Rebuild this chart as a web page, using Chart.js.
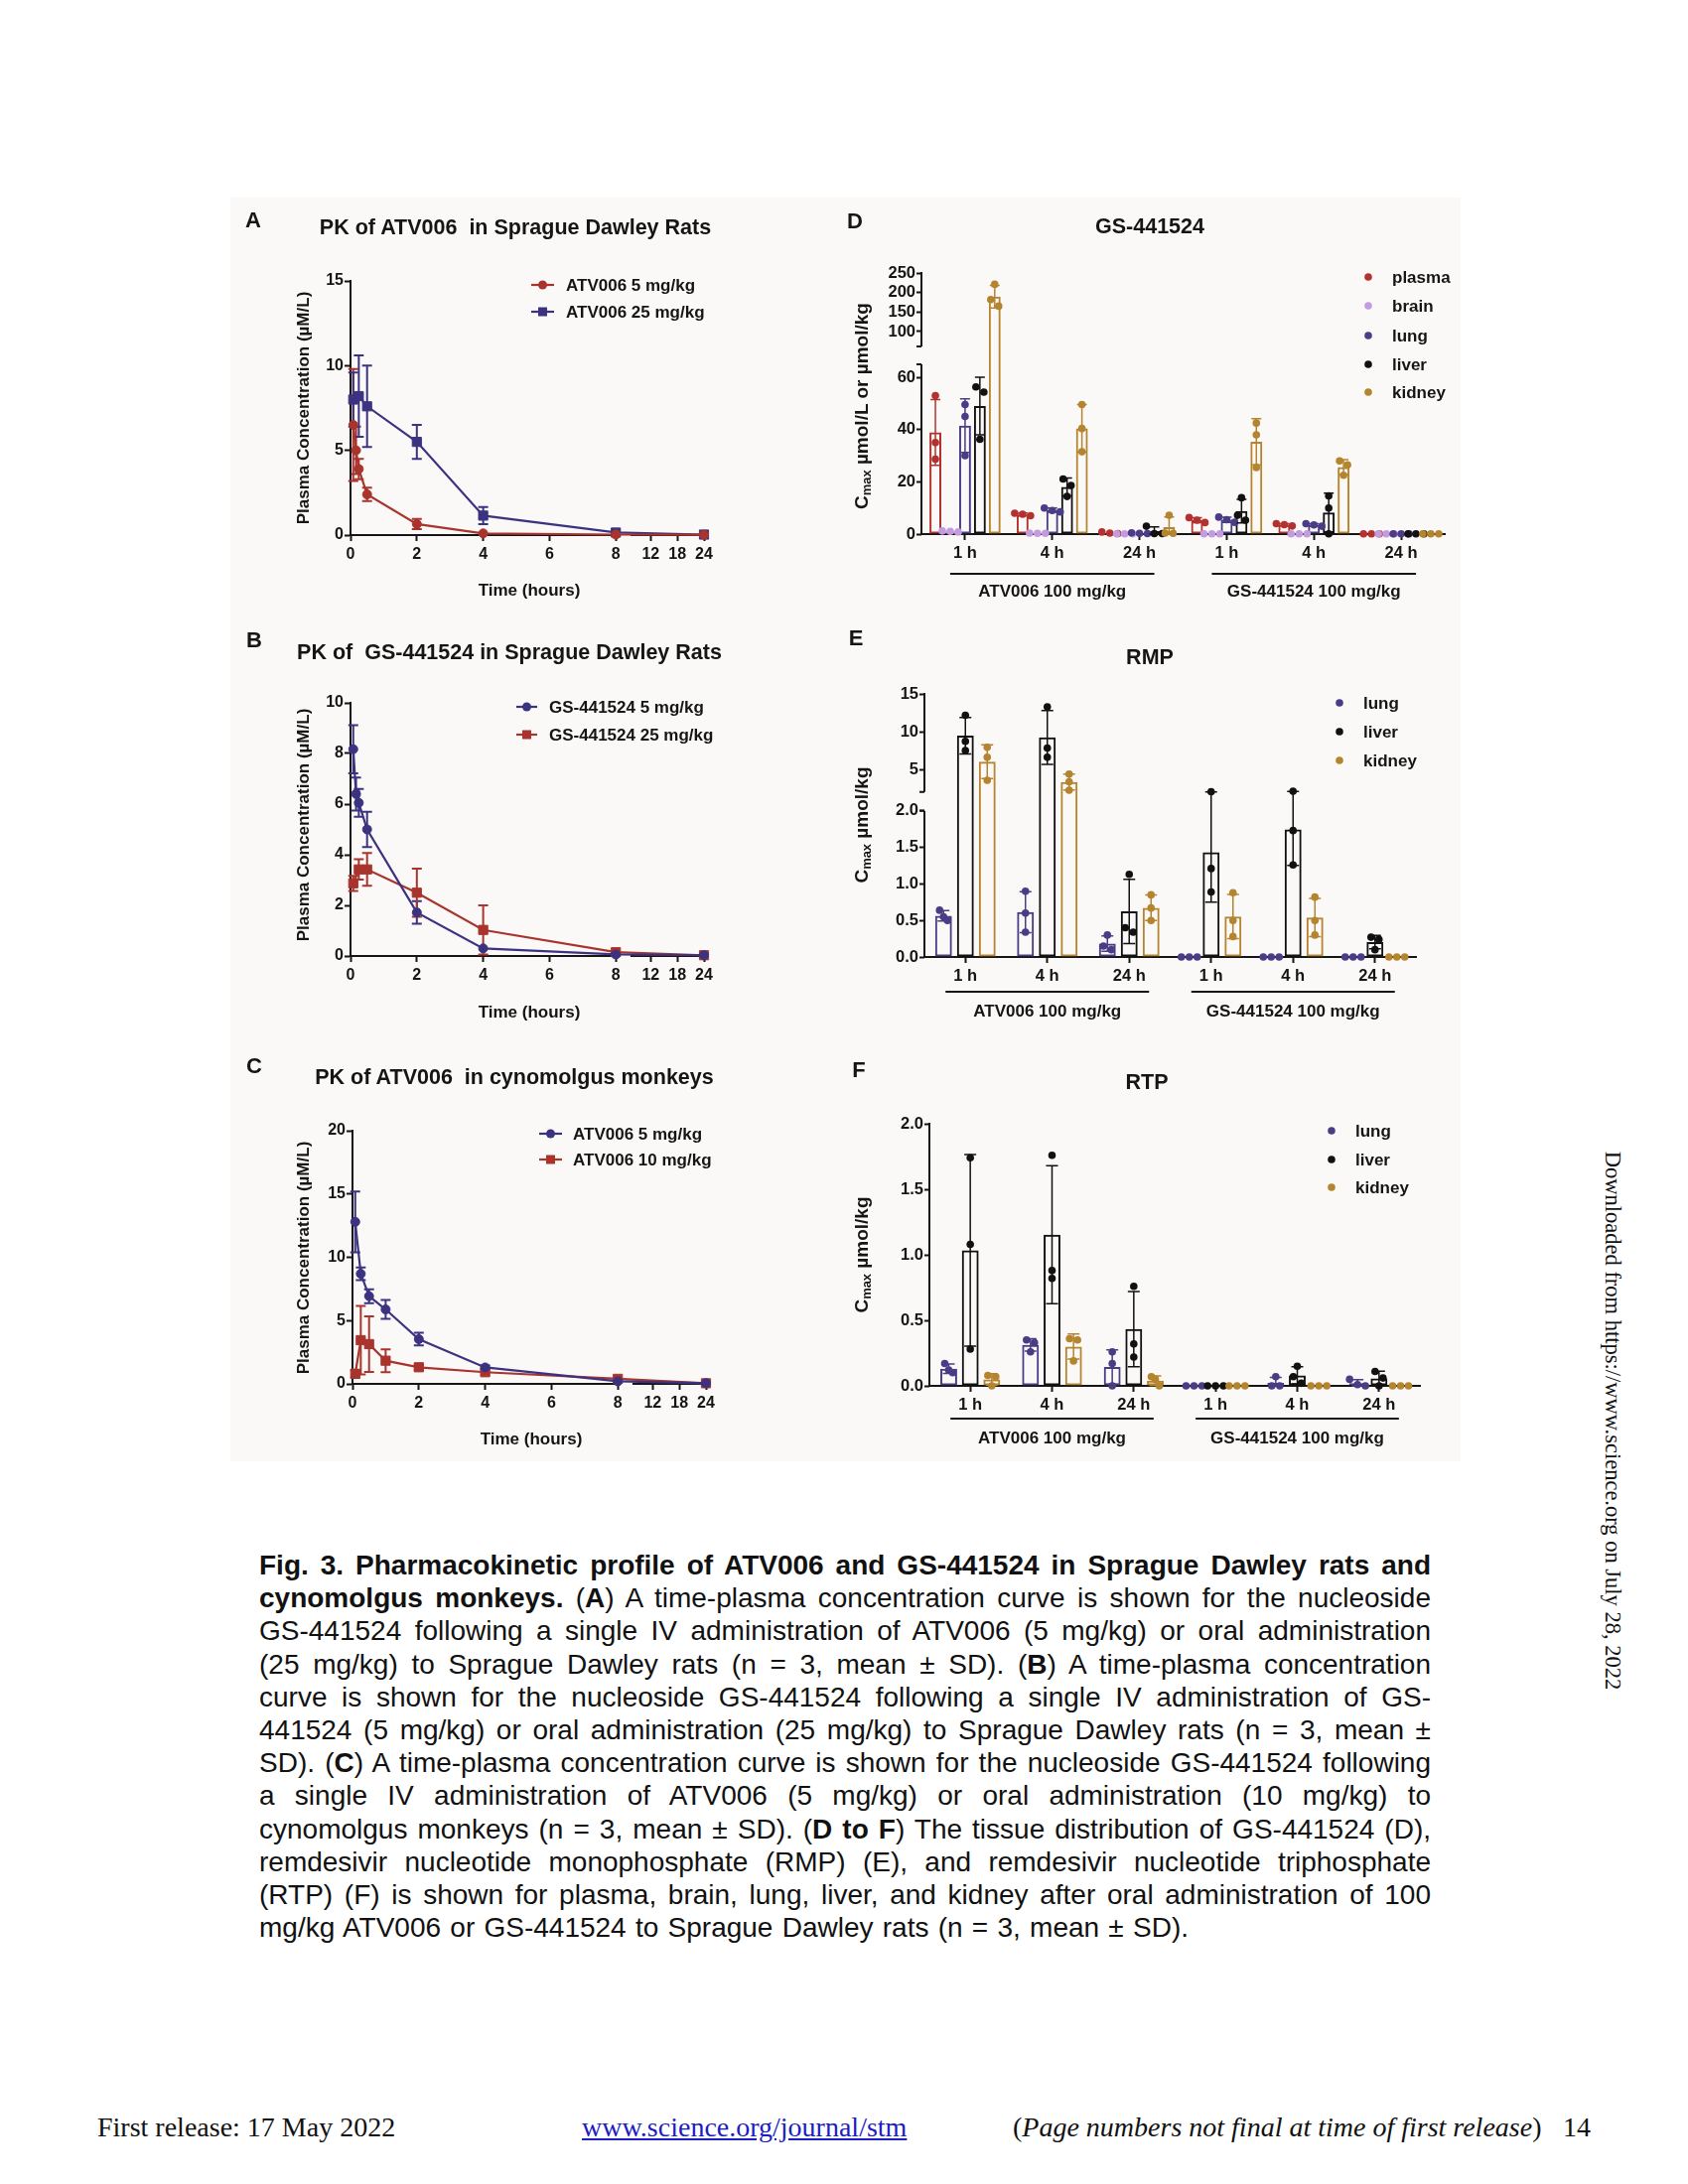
<!DOCTYPE html>
<html>
<head>
<meta charset="utf-8">
<title>Fig. 3</title>
<script src="https://cdn.jsdelivr.net/npm/chart.js@4.4.1/dist/chart.umd.min.js"></script>
<style>
  body { margin: 0; background: #fff; }
  #page { position: relative; width: 1700px; height: 2200px; background: #fff; overflow: hidden; font-family: "Liberation Sans", Arial, sans-serif; color: #151515; }
  #fig { position: absolute; left: 232px; top: 199px; width: 1239px; height: 1273px; background: #fbf9f8; }
  canvas { position: absolute; }
  .t { position: absolute; white-space: nowrap; transform: translate(-50%, -50%); font-weight: bold; line-height: 1; }
  .rot { transform: translate(-50%, -50%) rotate(-90deg); }
  .t sub { font-size: 0.68em; vertical-align: -0.3em; line-height: 0; }
  .cap { position: absolute; left: 261px; font-family: "Liberation Sans", Arial, sans-serif; font-size: 28px; line-height: 1; white-space: nowrap; transform-origin: left center; color: #111; }
  .foot { position: absolute; font-family: "Liberation Serif", "Times New Roman", serif; font-size: 28px; line-height: 1; white-space: nowrap; transform: translateY(-50%); color: #111; }
</style>
</head>
<body>
<div id="page">
  <div id="fig"></div>

  <canvas id="chA" width="505" height="421" style="left:238px;top:196px;width:505px;height:421px"></canvas>
  <canvas id="chB" width="505" height="407" style="left:238px;top:631px;width:505px;height:407px"></canvas>
  <canvas id="chC" width="505" height="414" style="left:238px;top:1059px;width:505px;height:414px"></canvas>
  <canvas id="chD" width="631" height="421" style="left:842px;top:196px;width:631px;height:421px"></canvas>
  <canvas id="chE" width="631" height="407" style="left:842px;top:631px;width:631px;height:407px"></canvas>
  <canvas id="chF" width="631" height="414" style="left:842px;top:1059px;width:631px;height:414px"></canvas>

  <!-- panel letters and titles -->
  <div class="t" style="left:255px;top:222px;font-size:22px">A</div>
  <div class="t" style="left:519px;top:230px;font-size:21.5px">PK of ATV006&nbsp; in Sprague Dawley Rats</div>
  <div class="t" style="left:256px;top:645px;font-size:22px">B</div>
  <div class="t" style="left:513px;top:658px;font-size:21.5px">PK of&nbsp; GS-441524 in Sprague Dawley Rats</div>
  <div class="t" style="left:256px;top:1074px;font-size:22px">C</div>
  <div class="t" style="left:518px;top:1086px;font-size:21.5px">PK of ATV006&nbsp; in cynomolgus monkeys</div>
  <div class="t" style="left:861px;top:223px;font-size:22px">D</div>
  <div class="t" style="left:1158px;top:229px;font-size:21.5px">GS-441524</div>
  <div class="t" style="left:862px;top:643px;font-size:22px">E</div>
  <div class="t" style="left:1158px;top:663px;font-size:21.5px">RMP</div>
  <div class="t" style="left:865px;top:1078px;font-size:22px">F</div>
  <div class="t" style="left:1155px;top:1091px;font-size:21.5px">RTP</div>

  <!-- axis titles -->
  <div class="t rot" style="left:305px;top:411px;font-size:17px">Plasma Concentration (µM/L)</div>
  <div class="t" style="left:533px;top:594px;font-size:17px">Time (hours)</div>
  <div class="t rot" style="left:305px;top:831px;font-size:17px">Plasma Concentration (µM/L)</div>
  <div class="t" style="left:533px;top:1019px;font-size:17px">Time (hours)</div>
  <div class="t rot" style="left:305px;top:1267px;font-size:17px">Plasma Concentration (µM/L)</div>
  <div class="t" style="left:535px;top:1449px;font-size:17px">Time (hours)</div>
  <div class="t rot" style="left:867px;top:409px;font-size:19px">C<sub>max</sub> µmol/L or µmol/kg</div>
  <div class="t rot" style="left:867px;top:831px;font-size:19px">C<sub>max</sub> µmol/kg</div>
  <div class="t rot" style="left:867px;top:1264px;font-size:19px">C<sub>max</sub> µmol/kg</div>

  <!-- caption -->
  <div class="cap" style="top:1563px"><b>Fig. 3. Pharmacokinetic profile of ATV006 and GS-441524 in Sprague Dawley rats and</b></div>
  <div class="cap" style="top:1596px"><b>cynomolgus monkeys.</b> (<b>A</b>) A time-plasma concentration curve is shown for the nucleoside</div>
  <div class="cap" style="top:1629px">GS-441524 following a single IV administration of ATV006 (5 mg/kg) or oral administration</div>
  <div class="cap" style="top:1663px">(25 mg/kg) to Sprague Dawley rats (n = 3, mean ± SD). (<b>B</b>) A time-plasma concentration</div>
  <div class="cap" style="top:1696px">curve is shown for the nucleoside GS-441524 following a single IV administration of GS-</div>
  <div class="cap" style="top:1729px">441524 (5 mg/kg) or oral administration (25 mg/kg) to Sprague Dawley rats (n = 3, mean ±</div>
  <div class="cap" style="top:1762px">SD). (<b>C</b>) A time-plasma concentration curve is shown for the nucleoside GS-441524 following</div>
  <div class="cap" style="top:1795px">a single IV administration of ATV006 (5 mg/kg) or oral administration (10 mg/kg) to</div>
  <div class="cap" style="top:1829px">cynomolgus monkeys (n = 3, mean ± SD). (<b>D to F</b>) The tissue distribution of GS-441524 (D),</div>
  <div class="cap" style="top:1862px">remdesivir nucleotide monophosphate (RMP) (E), and remdesivir nucleotide triphosphate</div>
  <div class="cap" style="top:1895px">(RTP) (F) is shown for plasma, brain, lung, liver, and kidney after oral administration of 100</div>
  <div class="cap last" style="top:1928px">mg/kg ATV006 or GS-441524 to Sprague Dawley rats (n = 3, mean ± SD).</div>

  <!-- page furniture -->
  <div class="foot" style="left:98px;top:2143px">First release: 17 May 2022</div>
  <div class="foot" style="left:586px;top:2143px;color:#1c1cc4;text-decoration:underline">www.science.org/journal/stm</div>
  <div class="foot" style="left:1020px;top:2143px">(<i>Page numbers not final at time of first release</i>)</div>
  <div class="foot" style="left:1574px;top:2143px">14</div>
  <div class="foot" style="left:1624px;top:1431px;font-size:22.5px;transform:translate(-50%,-50%) rotate(90deg)">Downloaded from https://www.science.org on July 28, 2022</div>
</div>

<script>
const FONT = '"Liberation Sans", Arial, sans-serif';
const INK = '#151515';
const RED = '#a8342d';
const BLUE = '#3b3380';

// ---------- A–C: plasma concentration (µM/L) vs time (h), mean and SD
const tickHours = [0, 2, 4, 6, 8, 12, 18, 24];

const timeA5 = [0.083, 0.167, 0.25, 0.5, 2, 4, 8, 24];
const atv5Rat = [6.5, 5.0, 3.9, 2.4, 0.65, 0.1, 0.03, 0.02];
const atv5RatSd = [3.3, 1.4, 0.6, 0.4, 0.3, 0.05, 0.02, 0.01];
const timeA25 = [0.083, 0.25, 0.5, 2, 4, 8, 24];
const atv25Rat = [8.0, 8.2, 7.6, 5.5, 1.15, 0.15, 0.03];
const atv25RatSd = [1.6, 2.4, 2.4, 1.0, 0.5, 0.05, 0.01];

const timeB5 = [0.083, 0.167, 0.25, 0.5, 2, 4, 8, 24];
const gs5Rat = [8.17, 6.4, 6.05, 5.0, 1.72, 0.3, 0.06, 0.03];
const gs5RatSd = [0.95, 0.65, 0.55, 0.7, 0.45, 0.05, 0.02, 0.01];
const timeB25 = [0.083, 0.25, 0.5, 2, 4, 8, 24];
const gs25Rat = [2.87, 3.42, 3.42, 2.5, 1.03, 0.15, 0.03];
const gs25RatSd = [0.3, 0.4, 0.65, 0.95, 0.97, 0.05, 0.01];

const timeC = [0.083, 0.25, 0.5, 1, 2, 4, 8, 24];
const atv5Mk = [12.8, 8.7, 6.93, 5.88, 3.53, 1.3, 0.2, 0.05];
const atv5MkSd = [2.4, 0.5, 0.55, 0.75, 0.5, 0.15, 0.05, 0.02];
const atv10Mk = [0.8, 3.45, 3.14, 1.83, 1.31, 0.92, 0.4, 0.05];
const atv10MkSd = [0.3, 2.7, 2.2, 0.9, 0.2, 0.1, 0.05, 0.02];

// ---------- D–F: tissue Cmax, three animals per bar
const timeGroups = ['1 h', '4 h', '24 h', '1 h', '4 h', '24 h'];
const doseGroups = ['ATV006 100 mg/kg', 'GS-441524 100 mg/kg'];

const dPlasma = [[53, 35, 28.7], [8, 7.6, 7], [0.8, 0.4, 0.2], [6.3, 5.3, 4.4], [4, 3.6, 3.1], [0.1, 0.1, 0.1]];
const dBrain = [[1.2, 1.0, 0.8], [0.4, 0.3, 0.3], [0.1, 0.1, 0.1], [0.1, 0.1, 0.1], [0.1, 0.1, 0.1], [0.1, 0.1, 0.1]];
const dLung = [[49.6, 45, 30], [10, 9, 8.5], [0.5, 0.3, 0.2], [6.5, 5.5, 4.5], [4, 3.5, 3], [0.1, 0.1, 0.1]];
const dLiver = [[56.3, 54.3, 36.3], [21.1, 18.6, 14.4], [3.0, 0.2, 0.2], [13.9, 7.2, 5.3], [14.6, 10, 0.1], [0.1, 0.1, 0.1]];
const dKidney = [[221, 182, 165], [49.6, 40.4, 31.5], [7.2, 0.4, 0.3], [42.5, 38, 25.5], [28, 26.5, 22.5], [0.1, 0.1, 0.1]];
const dTicks = [0, 20, 40, 60, 100, 150, 200, 250];

const eLung = [[0.64, 0.55, 0.5], [0.9, 0.6, 0.34], [0.3, 0.15, 0.1], [0, 0, 0], [0, 0, 0], [0, 0, 0]];
const eLiver = [[12.2, 8.8, 7.6], [13.3, 7.9, 6.7], [1.13, 0.4, 0.34], [2.2, 1.21, 0.89], [2.25, 1.73, 1.26], [0.27, 0.24, 0.1]];
const eKidney = [[8.0, 6.7, 3.7], [4.5, 3.5, 2.4], [0.85, 0.67, 0.5], [0.88, 0.5, 0.28], [0.82, 0.5, 0.3], [0, 0, 0]];
const eTicks = [0, 0.5, 1, 1.5, 2, 5, 10, 15];
const eLabels = ['0.0', '0.5', '1.0', '1.5', '2.0', '5', '10', '15'];

const fLung = [[0.17, 0.12, 0.1], [0.35, 0.33, 0.26], [0.26, 0.17, 0.0], [0, 0, 0], [0.07, 0.0, 0.0], [0.05, 0.01, 0.0]];
const fLiver = [[1.74, 1.08, 0.28], [1.76, 0.88, 0.82], [0.76, 0.32, 0.22], [0, 0, 0], [0.15, 0.07, 0.02], [0.11, 0.06, 0.0]];
const fKidney = [[0.08, 0.07, 0.0], [0.36, 0.35, 0.19], [0.07, 0.05, 0.0], [0, 0, 0], [0, 0, 0], [0, 0, 0]];
const fTicks = [0, 0.5, 1, 1.5, 2];
const fLabels = ['0.0', '0.5', '1.0', '1.5', '2.0'];

const tissueColor = { plasma: '#b3322f', brain: '#c39ce0', lung: '#4b3c86', liver: '#111111', kidney: '#b5842f' };

const mean = a => a.reduce((s, v) => s + v, 0) / a.length;
const sdev = a => { const m = mean(a); return Math.sqrt(a.reduce((s, v) => s + (v - m) * (v - m), 0) / (a.length - 1)); };

// time axis is broken after 8 h, 12-24 h squeezed in
function brk(t) { return t <= 8 ? t : 9.05 + (t - 12) * 0.134; }

// y axis with a gap: lower part up to lowTop, upper part from upStart
function splitAxis(lowTop, kLow, gap, upStart, kUp) {
  const cut = lowTop * kLow;
  const tf = v => v <= lowTop ? v * kLow : cut + gap + Math.max(v - upStart, 0) * kUp;
  tf.segs = top => [[0, cut], [cut + gap, tf(top)]];
  return tf;
}
const tfD = splitAxis(65, 2.633, 18, 62, 0.3933);
const tfE = splitAxis(2, 73.4, 19, 2.17, 7.67);
const tfF = v => v * 132;
tfF.segs = top => [[0, tfF(top)]];

const tickFont = { family: FONT, size: 16, weight: 'bold' };
const barFont = { family: FONT, size: 16.5, weight: 'bold' };

function lineDecor(series, legend) {
  return {
    id: 'lineDecor',
    beforeDatasetsDraw(chart) {
      const { ctx, chartArea: a, scales: { x, y } } = chart;
      ctx.save();
      ctx.strokeStyle = INK;
      ctx.lineWidth = 2;
      const y0 = y.getPixelForValue(0);
      ctx.beginPath();
      ctx.moveTo(a.left - 1, y0); ctx.lineTo(x.getPixelForValue(8) + 2, y0);
      ctx.moveTo(x.getPixelForValue(8.44), y0); ctx.lineTo(x.getPixelForValue(brk(24)) + 1, y0);
      ctx.stroke();
      // error bars
      series.forEach(s => {
        ctx.strokeStyle = s.color;
        ctx.lineWidth = 2;
        s.t.forEach((t, i) => {
          const px = x.getPixelForValue(brk(t));
          const hi = y.getPixelForValue(s.v[i] + s.sd[i]);
          const lo = y.getPixelForValue(Math.max(s.v[i] - s.sd[i], 0));
          if (lo - hi < 3) return;
          ctx.beginPath();
          ctx.moveTo(px, hi); ctx.lineTo(px, lo);
          ctx.moveTo(px - 5, hi); ctx.lineTo(px + 5, hi);
          ctx.moveTo(px - 5, lo); ctx.lineTo(px + 5, lo);
          ctx.stroke();
        });
      });
      ctx.restore();
    },
    afterDraw(chart) {
      const { ctx } = chart;
      ctx.save();
      ctx.font = `bold ${legend.size}px ${FONT}`;
      ctx.textBaseline = 'middle';
      series.forEach((s, i) => {
        const yy = legend.y[i];
        const cx = (legend.x1 + legend.x2) / 2;
        ctx.strokeStyle = s.color;
        ctx.fillStyle = s.color;
        ctx.lineWidth = 2.2;
        ctx.beginPath(); ctx.moveTo(legend.x1, yy); ctx.lineTo(legend.x2, yy); ctx.stroke();
        if (s.style === 'rect') ctx.fillRect(cx - 4.5, yy - 4.5, 9, 9);
        else { ctx.beginPath(); ctx.arc(cx, yy, 4.5, 0, Math.PI * 2); ctx.fill(); }
        ctx.fillStyle = INK;
        ctx.fillText(s.label, legend.tx, yy + 1);
      });
      ctx.restore();
    }
  };
}

function lineChart(id, box, yMax, yStep, series, legend) {
  new Chart(document.getElementById(id), {
    type: 'line',
    data: {
      datasets: series.map(s => ({
        label: s.label,
        data: s.t.map((t, i) => ({ x: brk(t), y: s.v[i] })),
        borderColor: s.color,
        backgroundColor: s.color,
        borderWidth: 2.2,
        pointStyle: s.style,
        pointRadius: s.style === 'rect' ? 6.5 : 4.5,
        pointBorderWidth: 1,
        pointBorderColor: s.color,
        pointBackgroundColor: s.color,
        tension: 0,
        clip: false
      }))
    },
    options: {
      responsive: false,
      animation: false,
      events: [],
      layout: { padding: { left: 0, top: box.top, right: box.right, bottom: 0 } },
      plugins: { legend: { display: false }, tooltip: { enabled: false } },
      scales: {
        x: {
          type: 'linear', min: 0, max: brk(24),
          afterFit: s => { s.height = box.xh; },
          afterBuildTicks: s => { s.ticks = tickHours.map(t => ({ value: brk(t) })); },
          ticks: { callback: (v, i) => tickHours[i], font: tickFont, color: INK, padding: 4, maxRotation: 0, autoSkip: false },
          grid: { drawOnChartArea: false, tickLength: 6, tickWidth: 2, tickColor: INK },
          border: { display: false }
        },
        y: {
          min: 0, max: yMax,
          afterFit: s => { s.width = box.yw; },
          ticks: { stepSize: yStep, font: tickFont, color: INK, padding: 1 },
          grid: { drawOnChartArea: false, tickLength: 6, tickWidth: 2, tickColor: INK },
          border: { color: INK, width: 2 }
        }
      }
    },
    plugins: [lineDecor(series, legend)]
  });
}

function barDecor(cfg) {
  const { tf, series, legend, grp } = cfg;
  const topVal = cfg.ticks[cfg.ticks.length - 1];
  return {
    id: 'barDecor',
    beforeDatasetsDraw(chart) {
      const { ctx, chartArea: a, scales: { y } } = chart;
      const segs = tf.segs(topVal);
      ctx.save();
      ctx.strokeStyle = INK;
      ctx.lineWidth = 2;
      segs.forEach(([u0, u1], k) => {
        const p0 = y.getPixelForValue(u0), p1 = y.getPixelForValue(u1);
        ctx.beginPath();
        ctx.moveTo(a.left, p0 + (k === 0 ? 1 : 0)); ctx.lineTo(a.left, p1 - (k === segs.length - 1 ? 1 : 0));
        if (k > 0) { ctx.moveTo(a.left - 5, p0); ctx.lineTo(a.left, p0); }
        if (k < segs.length - 1) { ctx.moveTo(a.left - 5, p1); ctx.lineTo(a.left, p1); }
        ctx.stroke();
      });
      ctx.restore();
    },
    afterDatasetsDraw(chart) {
      const { ctx, scales: { y } } = chart;
      ctx.save();
      series.forEach((s, i) => {
        const bars = chart.getDatasetMeta(i).data;
        s.pts.forEach((p, j) => {
          const bx = bars[j].x;
          const m = mean(p), d = sdev(p);
          ctx.strokeStyle = s.color;
          ctx.lineWidth = 1.5;
          const hi = y.getPixelForValue(tf(m + d));
          const lo = y.getPixelForValue(tf(Math.max(m - d, 0)));
          if (lo - hi > 2) {
            ctx.beginPath();
            ctx.moveTo(bx, hi); ctx.lineTo(bx, lo);
            ctx.moveTo(bx - cfg.capW, hi); ctx.lineTo(bx + cfg.capW, hi);
            ctx.moveTo(bx - cfg.capW, lo); ctx.lineTo(bx + cfg.capW, lo);
            ctx.stroke();
          }
          const ys = p.map(v => y.getPixelForValue(tf(v)));
          ctx.fillStyle = s.color;
          ys.forEach((py, k) => {
            const near = ys.map((q, n) => n).filter(n => Math.abs(ys[n] - py) < cfg.dotR * 2);
            const rank = near.indexOf(k);
            const px = bx + (rank - (near.length - 1) / 2) * cfg.dotR * 2.1;
            ctx.beginPath(); ctx.arc(px, py, cfg.dotR, 0, Math.PI * 2); ctx.fill();
          });
        });
      });
      ctx.restore();
    },
    afterDraw(chart) {
      const { ctx, chartArea: a, scales: { x } } = chart;
      ctx.save();
      ctx.strokeStyle = INK;
      ctx.fillStyle = INK;
      ctx.lineWidth = 2;
      ctx.font = `bold ${grp.size}px ${FONT}`;
      ctx.textAlign = 'center';
      ctx.textBaseline = 'middle';
      doseGroups.forEach((name, g) => {
        const xa = x.getPixelForValue(g * 3) - grp.ext;
        const xb = x.getPixelForValue(g * 3 + 2) + grp.ext;
        ctx.beginPath(); ctx.moveTo(xa, a.bottom + grp.dy1); ctx.lineTo(xb, a.bottom + grp.dy1); ctx.stroke();
        ctx.fillText(name, (xa + xb) / 2, a.bottom + grp.dy2);
      });
      // legend
      ctx.textAlign = 'left';
      ctx.font = `bold ${legend.size}px ${FONT}`;
      series.forEach((s, i) => {
        ctx.fillStyle = s.color;
        ctx.beginPath(); ctx.arc(legend.dotX, legend.y[i], 3.8, 0, Math.PI * 2); ctx.fill();
        ctx.fillStyle = INK;
        ctx.fillText(s.label, legend.textX, legend.y[i] + 1);
      });
      ctx.restore();
    }
  };
}

function barChart(id, cfg) {
  const { box, tf, ticks, labels, series } = cfg;
  new Chart(document.getElementById(id), {
    type: 'bar',
    data: {
      labels: timeGroups,
      datasets: series.map(s => ({
        label: s.label,
        data: s.pts.map(p => tf(mean(p))),
        borderColor: s.color,
        backgroundColor: 'rgba(255,255,255,0)',
        borderWidth: 2,
        borderSkipped: false,
        categoryPercentage: cfg.catPct,
        barPercentage: cfg.barPct
      }))
    },
    options: {
      responsive: false,
      animation: false,
      events: [],
      layout: { padding: { left: 0, top: box.top, right: box.right, bottom: 0 } },
      plugins: { legend: { display: false }, tooltip: { enabled: false } },
      scales: {
        x: {
          afterFit: s => { s.height = box.xh; },
          ticks: { font: barFont, color: INK, padding: 4, maxRotation: 0, autoSkip: false },
          grid: { offset: false, drawOnChartArea: false, tickLength: 6, tickWidth: 2, tickColor: INK },
          border: { color: INK, width: 2 }
        },
        y: {
          min: 0, max: tf(ticks[ticks.length - 1]),
          afterFit: s => { s.width = box.yw; },
          afterBuildTicks: s => { s.ticks = ticks.map(v => ({ value: tf(v) })); },
          ticks: { callback: (v, i) => labels[i], font: barFont, color: INK, padding: 1, autoSkip: false },
          grid: { drawOnChartArea: false, tickLength: 5, tickWidth: 2, tickColor: INK },
          border: { display: false }
        }
      }
    },
    plugins: [barDecor(cfg)]
  });
}

// ---------- build panels
lineChart('chA', { top: 87, right: 34, yw: 115, xh: 78 }, 15, 5, [
  { label: 'ATV006 5 mg/kg', t: timeA5, v: atv5Rat, sd: atv5RatSd, color: RED, style: 'circle' },
  { label: 'ATV006 25 mg/kg', t: timeA25, v: atv25Rat, sd: atv25RatSd, color: BLUE, style: 'rect' }
], { x1: 297, x2: 320, tx: 332, y: [91, 118], size: 17 });

lineChart('chB', { top: 77, right: 34, yw: 115, xh: 75 }, 10, 2, [
  { label: 'GS-441524 5 mg/kg', t: timeB5, v: gs5Rat, sd: gs5RatSd, color: BLUE, style: 'circle' },
  { label: 'GS-441524 25 mg/kg', t: timeB25, v: gs25Rat, sd: gs25RatSd, color: RED, style: 'rect' }
], { x1: 282, x2: 303, tx: 315, y: [81, 109], size: 17 });

lineChart('chC', { top: 80, right: 32, yw: 117, xh: 79 }, 20, 5, [
  { label: 'ATV006 5 mg/kg', t: timeC, v: atv5Mk, sd: atv5MkSd, color: BLUE, style: 'circle' },
  { label: 'ATV006 10 mg/kg', t: timeC, v: atv10Mk, sd: atv10MkSd, color: RED, style: 'rect' }
], { x1: 305, x2: 328, tx: 339, y: [83, 109], size: 17 });

barChart('chD', {
  box: { top: 79, right: 18, yw: 86, xh: 79 },
  tf: tfD, ticks: dTicks, labels: dTicks.map(String),
  series: [
    { label: 'plasma', pts: dPlasma, color: tissueColor.plasma },
    { label: 'brain', pts: dBrain, color: tissueColor.brain },
    { label: 'lung', pts: dLung, color: tissueColor.lung },
    { label: 'liver', pts: dLiver, color: tissueColor.liver },
    { label: 'kidney', pts: dKidney, color: tissueColor.kidney }
  ],
  catPct: 0.85, barPct: 0.8, dotR: 3.8, capW: 5,
  legend: { dotX: 536, textX: 560, y: [83, 112, 142, 171, 199], size: 17 },
  grp: { dy1: 40, dy2: 58, ext: 15, size: 17 }
});

barChart('chE', {
  box: { top: 68, right: 47, yw: 89, xh: 74 },
  tf: tfE, ticks: eTicks, labels: eLabels,
  series: [
    { label: 'lung', pts: eLung, color: tissueColor.lung },
    { label: 'liver', pts: eLiver, color: tissueColor.liver },
    { label: 'kidney', pts: eKidney, color: tissueColor.kidney }
  ],
  catPct: 0.8, barPct: 0.77, dotR: 3.8, capW: 6,
  legend: { dotX: 507, textX: 531, y: [77, 106, 135], size: 17 },
  grp: { dy1: 35, dy2: 55, ext: 20, size: 17 }
});

barChart('chF', {
  box: { top: 73, right: 43, yw: 94, xh: 77 },
  tf: tfF, ticks: fTicks, labels: fLabels,
  series: [
    { label: 'lung', pts: fLung, color: tissueColor.lung },
    { label: 'liver', pts: fLiver, color: tissueColor.liver },
    { label: 'kidney', pts: fKidney, color: tissueColor.kidney }
  ],
  catPct: 0.79, barPct: 0.78, dotR: 3.8, capW: 6,
  legend: { dotX: 499, textX: 523, y: [80, 109, 137], size: 17 },
  grp: { dy1: 33, dy2: 53, ext: 20, size: 17 }
});

// justify caption lines to the column width; the short last line only gets a touch of spacing
document.querySelectorAll('.cap').forEach(el => {
  const target = el.classList.contains('last') ? 936 : 1180;
  const w = el.getBoundingClientRect().width;
  const gaps = (el.textContent.match(/ /g) || []).length;
  if (w < target) el.style.wordSpacing = ((target - w) / gaps) + 'px';
  else el.style.transform = `scaleX(${target / w})`;
});
</script>
</body>
</html>
